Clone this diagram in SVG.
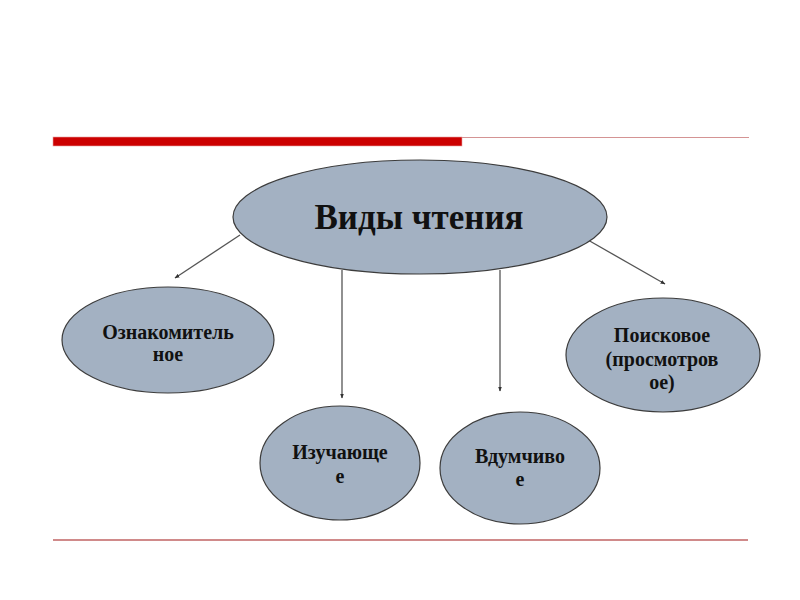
<svg xmlns="http://www.w3.org/2000/svg" width="800" height="600" viewBox="0 0 800 600">
<style>
.node ellipse{fill:#a3b1c2;stroke:#3c3c3c;stroke-width:1.2}
.node text{font-family:"Liberation Serif","Times New Roman",serif;font-weight:bold;fill:#111;text-anchor:middle}
.lbl{font-size:20px}
.conn line{stroke:#555;stroke-width:1.3;marker-end:url(#ah)}
</style>
<defs>
<marker id="ah" viewBox="0 0 10 10" refX="9" refY="5" markerWidth="5" markerHeight="5" orient="auto" markerUnits="userSpaceOnUse">
<path d="M0,1 L10,5 L0,9 z" fill="#333"/>
</marker>
</defs>
<rect width="800" height="600" fill="#fff"/>
<g id="decor">
<rect x="53" y="137" width="409" height="9" fill="#cc0000" stroke="#e8a0a0" stroke-width="0.6"/>
<line x1="462" y1="137.5" x2="749" y2="137.5" stroke="#d49494" stroke-width="1.2"/>
<line x1="53" y1="540" x2="748" y2="540" stroke="#d08a8a" stroke-width="2"/>
</g>
<g class="conn" id="connectors">
<line x1="240" y1="235" x2="175" y2="278"/>
<line x1="342" y1="270" x2="342" y2="398"/>
<line x1="500" y1="270" x2="500" y2="391"/>
<line x1="588" y1="240" x2="665" y2="284"/>
</g>
<g class="node" id="main">
<ellipse cx="420" cy="217" rx="187" ry="57"/>
<text x="419" y="229" font-size="35">Виды чтения</text>
</g>
<g class="node" id="oznakomitelnoe">
<ellipse cx="168" cy="340" rx="106" ry="53"/>
<text class="lbl" x="168" y="339">Ознакомитель</text>
<text class="lbl" x="168" y="361">ное</text>
</g>
<g class="node" id="izuchayushchee">
<ellipse cx="340" cy="463" rx="80" ry="57"/>
<text class="lbl" x="340" y="459">Изучающе</text>
<text class="lbl" x="340" y="483">е</text>
</g>
<g class="node" id="vdumchivoe">
<ellipse cx="520" cy="468" rx="80" ry="56"/>
<text class="lbl" x="520" y="463">Вдумчиво</text>
<text class="lbl" x="520" y="486">е</text>
</g>
<g class="node" id="poiskovoe">
<ellipse cx="663" cy="355" rx="97" ry="57"/>
<text class="lbl" x="662" y="342">Поисковое</text>
<text class="lbl" x="662" y="366">(просмотров</text>
<text class="lbl" x="662" y="389">ое)</text>
</g>
</svg>
